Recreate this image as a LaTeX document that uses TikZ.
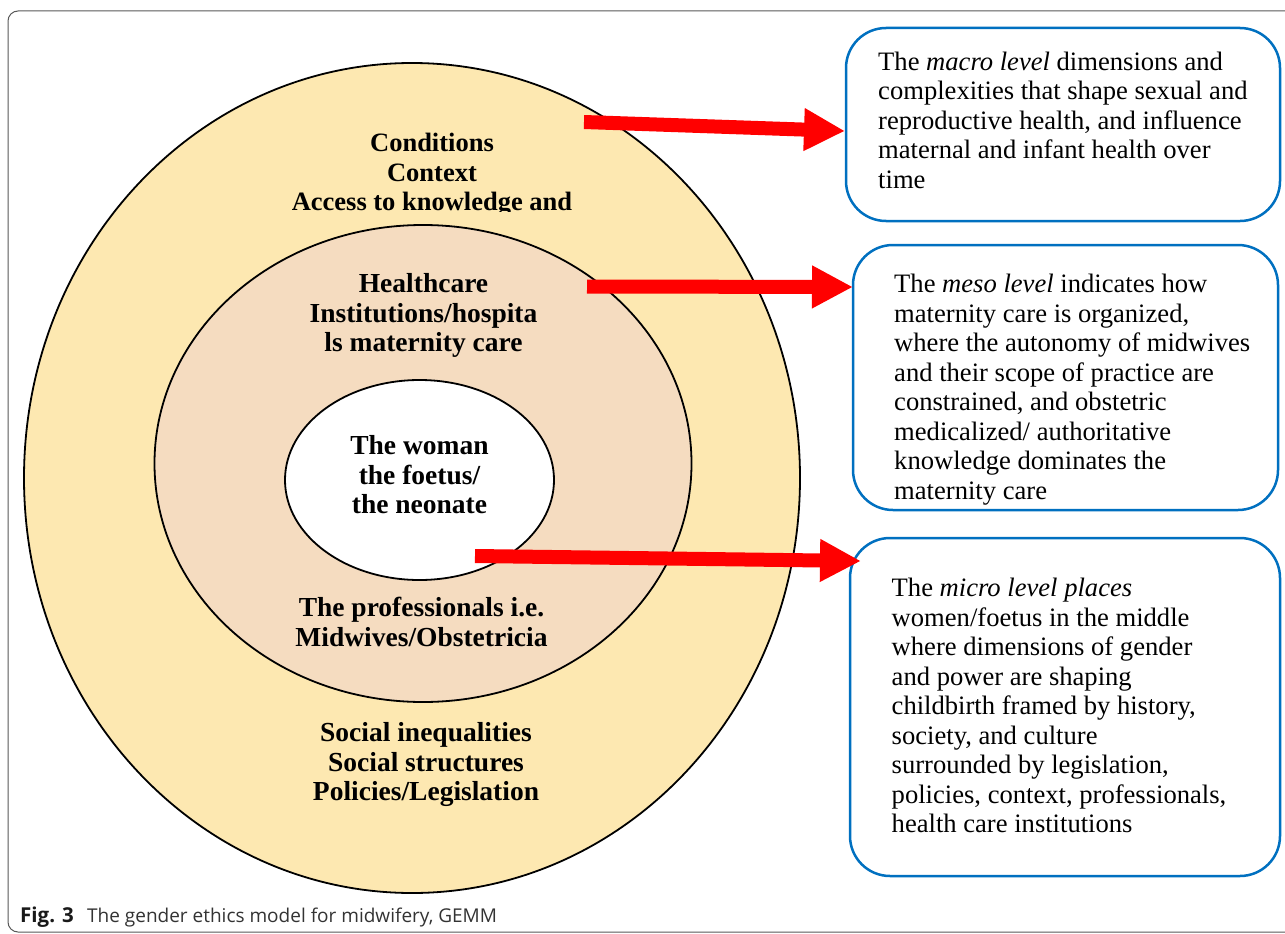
\documentclass[tikz,border=0pt]{standalone}
\usepackage{fontspec}
\setmainfont{Liberation Serif}
\newfontfamily\capfont{Open Sans}
\usetikzlibrary{shapes.geometric,arrows.meta}
\definecolor{outerfill}{RGB}{253,232,177}
\definecolor{midfill}{RGB}{245,220,192}
\definecolor{boxblue}{RGB}{0,112,192}
\definecolor{arrowred}{RGB}{255,0,0}
\tikzset{
  ring/.style={ellipse,draw=black,line width=1.8pt,inner sep=0pt},
  infobox/.style={rectangle,rounded corners=40pt,draw=boxblue,line width=2.5pt,fill=white,inner sep=0pt},
  boxtext/.style={anchor=north west,inner sep=0pt,align=left,font=\fontsize{26.6}{29.5}\selectfont},
  ringtext/.style={anchor=north,inner sep=0pt,align=center,font=\bfseries\fontsize{27.5}{29.5}\selectfont},
  bigarrow/.style={draw=arrowred,line width=14pt,line cap=butt,-{Triangle[length=41pt,width=40pt,fill=arrowred]}},
}
\newcommand{\firstline}{\rule{0pt}{20pt}}
\begin{document}
\begin{tikzpicture}[x=1pt,y=-1pt]
\useasboundingbox (0,0) rectangle (1285,934);
\clip (0,0) rectangle (1285,934);
\fill[white] (0,0) rectangle (1285,934);
% frame
\draw[black!65,line width=1pt,rounded corners=10pt] (8,11) rectangle (1320,932);

% rings
\node[ring,fill=outerfill,minimum width=776pt,minimum height=830pt] (outer) at (412,478) {};
\node[ring,fill=midfill,minimum width=537pt,minimum height=477pt] (middle) at (423,463.5) {};
\node[ring,fill=white,minimum width=269pt,minimum height=200pt] (inner) at (419.5,480) {};

% ring texts
\begin{scope}
\clip (250,110) rectangle (620,211);
\node[ringtext,font=\bfseries\fontsize{26.5}{29.5}\selectfont] (tmacro) at (432,131.5) {\firstline Conditions\\Context\\Access to knowledge and};
\end{scope}
\node[ringtext] (tmeso) at (423.5,272.3) {\firstline Healthcare\\Institutions/hospita\\ls maternity care};
\node[ringtext] (tmicro) at (419.5,434.3) {\firstline The woman\\the foetus/\\the neonate};
\node[ringtext] (tprof) at (421.5,596.7) {\firstline The professionals i.e.\\Midwives/Obstetricia};
\node[ringtext] (tsoc) at (426,721.7) {\firstline Social inequalities\\Social structures\\Policies/Legislation};

% info boxes
\node[infobox,minimum width=434pt,minimum height=193pt] (box1) at (1063,124.5) {};
\node[infobox,minimum width=425pt,minimum height=265pt] (box2) at (1065.5,377.5) {};
\node[infobox,minimum width=430pt,minimum height=338pt] (box3) at (1065,707) {};

\node[boxtext] (b1text) at (878,50) {\firstline The \textit{macro level} dimensions and\\complexities that shape sexual and\\reproductive health, and influence\\maternal and infant health over\\time};
\node[boxtext] (b2text) at (894,272.3) {\firstline The \textit{meso level} indicates how\\maternity care is organized,\\where the autonomy of midwives\\and their scope of practice are\\constrained, and obstetric\\medicalized/ authoritative\\knowledge dominates the\\maternity care};
\node[boxtext] (b3text) at (891.5,576.7) {\firstline The \textit{micro level places}\\women/foetus in the middle\\where dimensions of gender\\and power are shaping\\childbirth framed by history,\\society, and culture\\surrounded by legislation,\\policies, context, professionals,\\health care institutions};

% arrows
\coordinate (s1) at (584,122);
\coordinate (e1) at (845,131);
\coordinate (s2) at (587,286.5);
\coordinate (e2) at (853,287);
\coordinate (s3) at (475,556);
\coordinate (e3) at (861,561);
\draw[bigarrow] (s1) -- (e1);
\draw[bigarrow] (s2) -- (e2);
\draw[bigarrow] (s3) -- (e3);

% caption
\node[anchor=base west,inner sep=0pt,font=\capfont\bfseries\fontsize{20.5}{22}\selectfont,text=black!90] (figlabel) at (20,922) {Fig. 3};
\node[anchor=base west,inner sep=0pt,font=\capfont\fontsize{19}{21}\selectfont,text=black!80] (figcap) at (87,922) {The gender ethics model for midwifery, GEMM};
\end{tikzpicture}
\end{document}
